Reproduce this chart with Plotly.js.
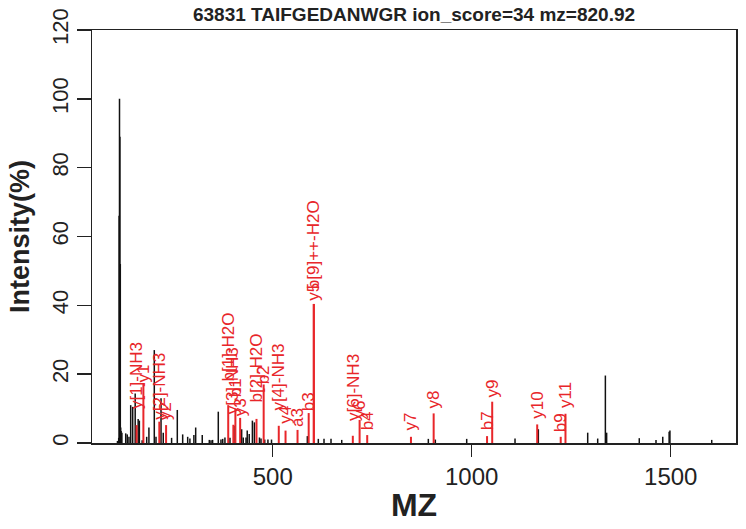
<!DOCTYPE html>
<html>
<head>
<meta charset="utf-8">
<script src="https://cdn.plot.ly/plotly-3.0.1.min.js"></script>
<style>html,body{margin:0;padding:0;background:#fff;}#chart{width:746px;height:529px;}</style>
</head>
<body>
<div id="chart"></div>
<script>
// Unannotated peaks (black)
const mzBlack = [110.0, 113.1, 114.1, 115.1, 116.1, 117.1, 118.1, 119.1, 121.1, 130.7, 134.6, 138.9,
  143.2, 148.2, 154.5, 162.0, 165.0, 172.0, 183.4, 189.0, 202.5, 206.8, 219.4, 225.0, 246.0, 260.3,
  273.8, 286.4, 292.0, 302.0, 306.5, 323.0, 340.7, 345.0, 349.0, 363.3, 370.0, 374.4, 380.0, 392.7,
  402.8, 422.0, 426.0, 433.0, 436.0, 441.0, 449.0, 454.0, 466.7, 470.6, 480.0, 488.0, 497.0, 587.0,
  614.6, 628.9, 646.5, 673.4, 891.0, 908.6, 987.4, 1108.8, 1167.4, 1291.4, 1316.5, 1335.8, 1339.0,
  1421.0, 1463.0, 1480.0, 1496.0, 1498.0, 1603.0];
const intBlack = [0.6, 1.5, 66, 100, 89, 52, 4.5, 3.5, 3.0, 2.8, 2.5, 1.8,
  11, 10.5, 14.4, 7, 6.5, 0.8, 1.8, 4.5, 27, 1.8, 13, 3, 1.5, 9.6,
  2.5, 1.8, 1.3, 2.3, 4.5, 2.3, 0.9, 0.8, 0.9, 9.1, 1.0, 1.2, 1.6, 1.5,
  5, 4, 1.6, 1.6, 3.6, 2.6, 6.5, 6, 1.6, 1.3, 1, 1, 1, 2,
  1.2, 1.2, 1.2, 0.9, 1.2, 1.0, 1.2, 1.3, 4, 3, 1.3, 19.6, 3,
  1.4, 0.9, 1.8, 3.3, 3.6, 0.9];

// Annotated fragment ions (red)
const mzRed = [158.09, 175.12, 215.11, 232.14, 388.25, 401.19, 406.26, 418.22, 459.29, 477.30,
  515.24, 532.26, 562.39, 590.38, 603.30, 603.31, 701.30, 718.33, 737.45, 847.37, 904.39,
  1038.54, 1051.46, 1164.54, 1223.62, 1235.58];
const intRed = [5.2, 17.2, 6.2, 5.2, 11, 5.3, 10, 7.3, 7, 17,
  5, 3.6, 3.8, 8.7, 40.4, 40.4, 2.1, 6.7, 2.3, 1.8, 8.6,
  2.0, 12.0, 5.4, 1.8, 8.5];
const ionLabels = ["y[1]-NH3", "y1", "y[2]-NH3", "y2", "b[1]-H2O", "y[3]-NH3", "b1", "y3", "b[2]-H2O", "b2",
  "y[4]-NH3", "y4", "a3", "b3", "y5", "b[9]++-H2O", "y[6]-NH3", "y6", "b4", "y7", "y8",
  "b7", "y9", "y10", "b9", "y11"];
const labelHeights = [9.6, 17.4, 6.4, 6.4, 17.5, 8, 13, 7.5, 11.5, 16.8,
  9.2, 5.2, 4.4, 9, 41, 44.5, 6.2, 6.7, 3.3, 3.3, 9.6,
  3.3, 13, 6.7, 2.9, 10];

const xTicks = [500, 1000, 1500];
const yTicks = [0, 20, 40, 60, 80, 100, 120];
const titleText = "63831 TAIFGEDANWGR ion_score=34 mz=820.92";

function stems(xs, ys) {
  const x = [], y = [];
  xs.forEach((v, i) => { x.push(v, v, null); y.push(0, ys[i], null); });
  return {x, y};
}

const FONT = "Liberation Sans, Arial, Helvetica, sans-serif";
const RED = "#e8262a";
const sb = stems(mzBlack, intBlack);
const sr = stems(mzRed, intRed);

const traces = [
  {type: "scatter", mode: "lines", x: sb.x, y: sb.y, line: {color: "#111111", width: 1.5},
   hoverinfo: "skip", showlegend: false, connectgaps: false},
  {type: "scatter", mode: "lines", x: sr.x, y: sr.y, line: {color: RED, width: 2},
   hoverinfo: "skip", showlegend: false, connectgaps: false}
];

const annotations = mzRed.map((m, i) => ({
  x: m, y: labelHeights[i], xref: "x", yref: "y", text: ionLabels[i],
  textangle: -90, showarrow: false, xanchor: "center", yanchor: "bottom",
  borderpad: 0, font: {family: FONT, size: 17, color: RED}
}));

const layout = {
  width: 746, height: 529,
  margin: {l: 92, r: 10, t: 30, b: 86},
  paper_bgcolor: "#ffffff", plot_bgcolor: "#ffffff",
  font: {family: FONT, color: "#111111"},
  title: {text: "<b>" + titleText + "</b>", font: {family: FONT, size: 19, color: "#222222"},
          x: 0.5, xref: "paper", xanchor: "center", y: 0.972, yref: "container", yanchor: "middle"},
  xaxis: {range: [46, 1664], tickvals: xTicks, ticktext: xTicks.map(String),
          showgrid: false, zeroline: false, showline: true, mirror: true,
          linecolor: "#222222", linewidth: 1.5, ticks: "outside", ticklen: 12, tickwidth: 1.5, tickcolor: "#222222",
          tickfont: {family: FONT, size: 24, color: "#222222"},
          title: {text: "<b>MZ</b>", font: {family: FONT, size: 32, color: "#222222"}, standoff: 4}},
  yaxis: {range: [0, 120], tickvals: yTicks, ticktext: yTicks.map(String), tickangle: -90,
          showgrid: false, zeroline: false, showline: true, mirror: true,
          linecolor: "#222222", linewidth: 1.5, ticks: "outside", ticklen: 14, tickwidth: 1.5, tickcolor: "#222222",
          tickfont: {family: FONT, size: 22, color: "#222222"},
          title: {text: "<b>Intensity(%)</b>", font: {family: FONT, size: 27, color: "#222222"}, standoff: 10}},
  annotations: annotations
};

Plotly.newPlot("chart", traces, layout, {staticPlot: true, displayModeBar: false});
</script>
</body>
</html>
